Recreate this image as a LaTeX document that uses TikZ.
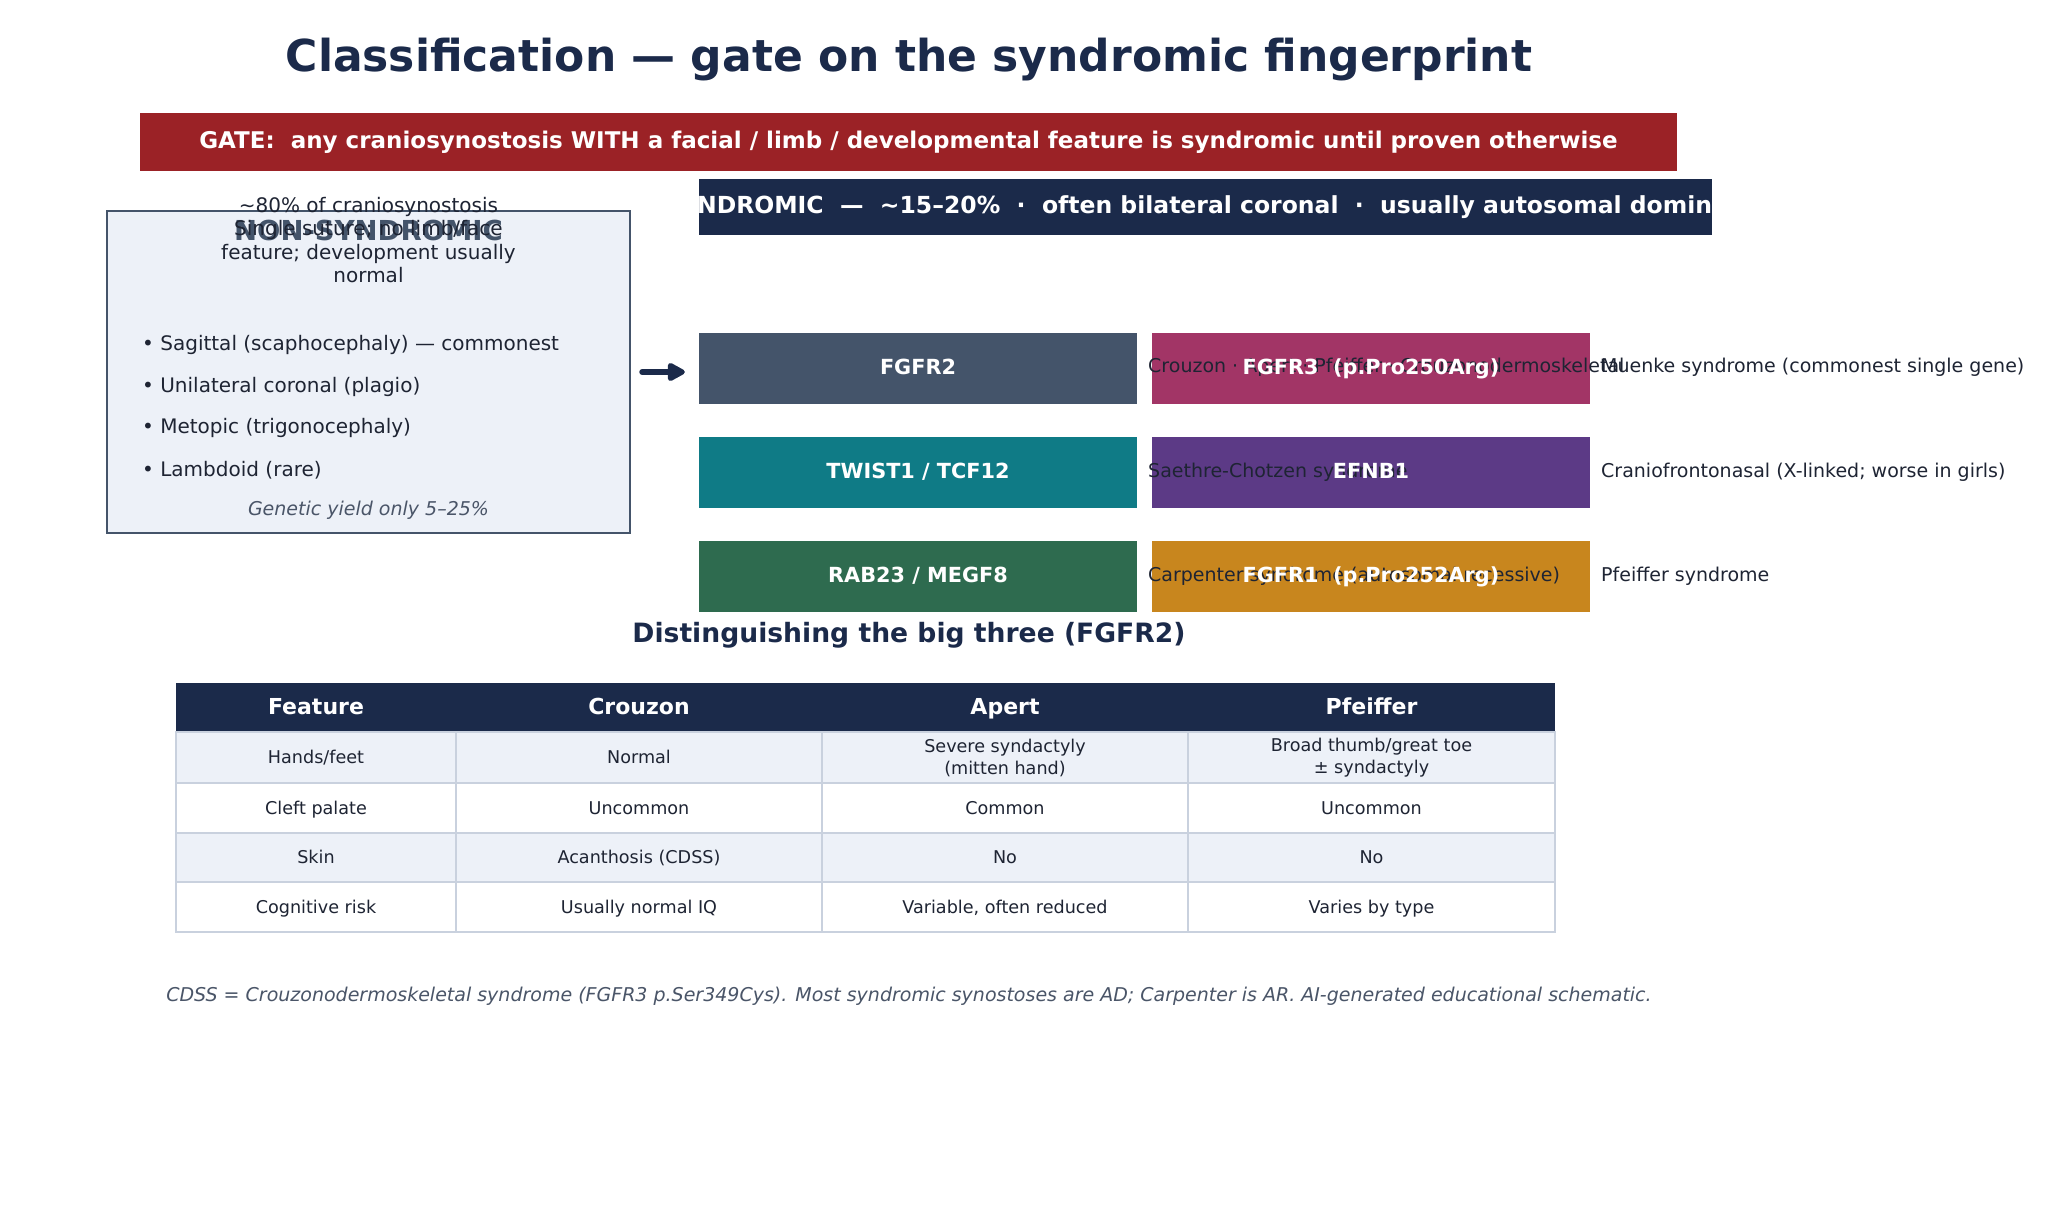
\documentclass[tikz,border=0pt]{standalone}
\usepackage{fontspec}
\setmainfont{DejaVu Sans}
\usetikzlibrary{arrows.meta}
\definecolor{navy}{HTML}{1B2A4A}
\definecolor{gatered}{HTML}{9B2226}
\definecolor{slate}{HTML}{44546A}
\definecolor{paleblue}{HTML}{EDF1F8}
\definecolor{inkdark}{HTML}{1E2433}
\definecolor{graytext}{HTML}{4A5568}
\definecolor{teal}{HTML}{0F7B86}
\definecolor{forest}{HTML}{2E6B4F}
\definecolor{berry}{HTML}{A23566}
\definecolor{grape}{HTML}{5C3A86}
\definecolor{amber}{HTML}{C8861E}
\definecolor{gridline}{HTML}{C9D1DE}
\newcommand\fsz[2]{\fontsize{#1pt}{#2pt}\selectfont}
\tikzset{
  genebox/.style={rectangle, minimum width=438, minimum height=71, inner sep=0, draw=none},
  genetext/.style={text=white, font=\fsz{20.8}{25}\bfseries, inner sep=0, text height=15.5, text depth=4.5},
  sidelabel/.style={anchor=west, text=inkdark, font=\fsz{19}{23}, inner sep=0, text height=14, text depth=4},
  bullet/.style={anchor=west, text=inkdark, font=\fsz{20}{24}, inner sep=0},
  cellbox/.style={draw=gridline, line width=2},
  celltwo/.style={text=inkdark, font=\fsz{17.6}{22}, align=center, inner sep=0},
  celltext/.style={text=inkdark, font=\fsz{17.6}{22}, inner sep=0, text height=14, text depth=2},
  headtext/.style={text=white, font=\fsz{22}{26}\bfseries, inner sep=0, text height=17, text depth=3},
  flowarrow/.style={draw=navy, line width=6, line cap=round, -{Triangle[length=20pt,width=20pt,round]}},
}
\begin{document}
\begin{tikzpicture}[x=1pt,y=-1pt]
\useasboundingbox[fill=white] (0,0) rectangle (2064,1230);

% title
\node[text=navy, font=\fsz{44}{50}\bfseries] (title) at (909,60) {Classification — gate on the syndromic fingerprint};

% gate bar
\node[rectangle, fill=gatered, minimum width=1537, minimum height=58, inner sep=0] (gate) at (908.5,142) {};
\node[text=white, font=\fsz{23}{27}\bfseries] (gatetext) at (gate.center) {GATE:\ \ any craniosynostosis WITH a facial / limb / developmental feature is syndromic until proven otherwise};

% syndromic bar
\node[rectangle, fill=navy, minimum width=1013, minimum height=56, inner sep=0] (syn) at (1205.5,207) {};
\begin{scope}
\clip (syn.south west) rectangle (syn.north east);
\node[text=white, font=\fsz{23.5}{28}\bfseries] (syntext) at ([xshift=4]syn.center) {SYNDROMIC\ \ —\ \ \textasciitilde15–20\%\ \ ·\ \ often bilateral coronal\ \ ·\ \ usually autosomal dominant};
\end{scope}

% non-syndromic box
\node[rectangle, draw=slate, fill=paleblue, line width=2.5, minimum width=523, minimum height=322, inner sep=0] (ns) at (368.5,372) {};
\node[text=slate, font=\fsz{27.5}{31}\bfseries] (nstitle) at (368.5,230) {NON-SYNDROMIC};
\node[text=inkdark, font=\fsz{20}{23.6}, align=center] (nssub) at (368.5,240) {\textasciitilde80\% of craniosynostosis\\Single suture; no limb/face\\feature; development usually\\normal};
\node[bullet] (b1) at (142,345) {•\ Sagittal (scaphocephaly) — commonest};
\node[bullet] (b2) at (142,387) {•\ Unilateral coronal (plagio)};
\node[bullet] (b3) at (142,428) {•\ Metopic (trigonocephaly)};
\node[bullet] (b4) at (142,470) {•\ Lambdoid (rare)};
\node[text=graytext, font=\fsz{19}{23}\itshape] (yield) at (368.5,510) {Genetic yield only 5–25\%};

% gene boxes
\node[genebox, fill=slate] (g1) at (918,369) {};
\node[genebox, fill=teal] (g2) at (918,472.5) {};
\node[genebox, fill=forest] (g3) at (918,576.5) {};
\node[genebox, fill=berry] (r1) at (1371,369) {};
\node[genebox, fill=grape] (r2) at (1371,472.5) {};
\node[genebox, fill=amber] (r3) at (1371,576.5) {};

% arrow
\draw[flowarrow] ([xshift=11]ns.east) -- ([xshift=-14]ns.east -| g1.west);

% labels beside the left boxes (drawn over the right boxes)
\node[sidelabel] (l1) at (1148,368) {Crouzon · Apert · Pfeiffer · Crouzonodermoskeletal};
\node[sidelabel] (l2) at (1148,472) {Saethre-Chotzen syndrome};
\node[sidelabel] (l3) at (1148,576) {Carpenter syndrome (autosomal recessive)};
\node[sidelabel] (m1) at (1601,368) {Muenke syndrome (commonest single gene)};
\node[sidelabel] (m2) at (1601,472) {Craniofrontonasal (X-linked; worse in girls)};
\node[sidelabel] (m3) at (1601,576) {Pfeiffer syndrome};

% gene box texts
\node[genetext] (g1t) at (g1.center) {FGFR2};
\node[genetext] (g2t) at (g2.center) {TWIST1 / TCF12};
\node[genetext] (g3t) at (g3.center) {RAB23 / MEGF8};
\node[genetext] (r1t) at (r1.center) {FGFR3\ \ (p.Pro250Arg)};
\node[genetext] (r2t) at (r2.center) {EFNB1};
\node[genetext] (r3t) at (r3.center) {FGFR1\ \ (p.Pro252Arg)};

% table heading
\node[text=navy, font=\fsz{26.6}{30}\bfseries] (thead) at (909,635) {Distinguishing the big three (FGFR2)};

% table
\fill[navy] (176,683) rectangle (1555,732);
\fill[paleblue] (176,732) rectangle (1555,783);
\fill[paleblue] (176,833) rectangle (1555,882);
\foreach \ya/\yb in {732/783,783/833,833/882,882/932}{
  \foreach \xa/\xb in {176/456,456/822,822/1188,1188/1555}{
    \draw[cellbox] (\xa,\ya) rectangle (\xb,\yb);
  }
}
\node[headtext] (h1) at (316,707.5) {Feature};
\node[headtext] (h2) at (639,707.5) {Crouzon};
\node[headtext] (h3) at (1005,707.5) {Apert};
\node[headtext] (h4) at (1371.5,707.5) {Pfeiffer};

\node[celltext] (c11) at (316,757.5) {Hands/feet};
\node[celltext] (c12) at (639,757.5) {Normal};
\node[celltwo] (c13) at (1005,758) {Severe syndactyly\\(mitten hand)};
\node[celltwo] (c14) at (1371.5,758) {Broad thumb/great toe\\± syndactyly};

\node[celltext] (c21) at (316,808) {Cleft palate};
\node[celltext] (c22) at (639,808) {Uncommon};
\node[celltext] (c23) at (1005,808) {Common};
\node[celltext] (c24) at (1371.5,808) {Uncommon};

\node[celltext] (c31) at (316,857.5) {Skin};
\node[celltext] (c32) at (639,857.5) {Acanthosis (CDSS)};
\node[celltext] (c33) at (1005,857.5) {No};
\node[celltext] (c34) at (1371.5,857.5) {No};

\node[celltext] (c41) at (316,907) {Cognitive risk};
\node[celltext] (c42) at (639,907) {Usually normal IQ};
\node[celltext] (c43) at (1005,907) {Variable, often reduced};
\node[celltext] (c44) at (1371.5,907) {Varies by type};

% footnote
\node[text=graytext, font=\fsz{19}{23}\itshape] (foot) at (909,996) {CDSS = Crouzonodermoskeletal syndrome (FGFR3 p.Ser349Cys). Most syndromic synostoses are AD; Carpenter is AR. AI-generated educational schematic.};
\end{tikzpicture}
\end{document}
